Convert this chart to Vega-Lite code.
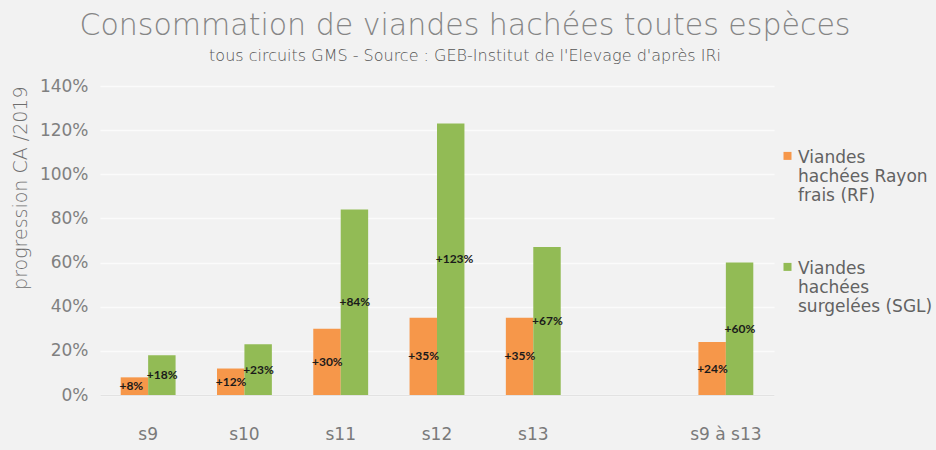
{
  "$schema": "https://vega.github.io/schema/vega-lite/v6.json",
  "autosize": "none",
  "width": 674,
  "height": 309,
  "padding": {"left": 100, "top": 86, "right": 162, "bottom": 55},
  "background": "#F2F2F2",
  "config": {
    "font": "DejaVu Sans",
    "view": {"stroke": null}
  },
  "title": {
    "text": "Consommation de viandes hachées toutes espèces",
    "subtitle": "tous circuits GMS -  Source :  GEB-Institut de l'Elevage d'après IRi",
    "anchor": "middle",
    "dx": 28,
    "fontSize": 30,
    "font": "DejaVu Sans",
    "fontWeight": 200,
    "color": "#858585",
    "subtitleFont": "DejaVu Sans",
    "subtitleFontSize": 16,
    "subtitleFontWeight": 200,
    "subtitleColor": "#555555",
    "subtitlePadding": 7,
    "offset": 13
  },
  "data": {
    "values": [
      {"semaine": "s9", "serie": "Viandes hachées Rayon frais (RF)", "v": 0.08},
      {"semaine": "s9", "serie": "Viandes hachées surgelées (SGL)", "v": 0.18},
      {"semaine": "s10", "serie": "Viandes hachées Rayon frais (RF)", "v": 0.12},
      {"semaine": "s10", "serie": "Viandes hachées surgelées (SGL)", "v": 0.23},
      {"semaine": "s11", "serie": "Viandes hachées Rayon frais (RF)", "v": 0.30},
      {"semaine": "s11", "serie": "Viandes hachées surgelées (SGL)", "v": 0.84},
      {"semaine": "s12", "serie": "Viandes hachées Rayon frais (RF)", "v": 0.35},
      {"semaine": "s12", "serie": "Viandes hachées surgelées (SGL)", "v": 1.23},
      {"semaine": "s13", "serie": "Viandes hachées Rayon frais (RF)", "v": 0.35},
      {"semaine": "s13", "serie": "Viandes hachées surgelées (SGL)", "v": 0.67},
      {"semaine": "s9 à s13", "serie": "Viandes hachées Rayon frais (RF)", "v": 0.24},
      {"semaine": "s9 à s13", "serie": "Viandes hachées surgelées (SGL)", "v": 0.60}
    ]
  },
  "encoding": {
    "x": {
      "field": "semaine",
      "type": "nominal",
      "sort": null,
      "scale": {"domain": ["s9", "s10", "s11", "s12", "s13", " ", "s9 à s13"], "paddingInner": 0.43, "paddingOuter": 0.215},
      "axis": {
        "title": null,
        "labelAngle": 0,
        "labelFontSize": 17,
        "labelFontWeight": "normal",
        "labelColor": "#7A7A7A",
        "labelPadding": 31,
        "ticks": false,
        "domain": true,
        "domainColor": "#E2E2E2",
        "domainWidth": 1
      }
    },
    "xOffset": {
      "field": "serie",
      "type": "nominal",
      "scale": {"paddingInner": 0, "paddingOuter": 0}
    }
  },
  "layer": [
    {
      "mark": {"type": "bar"},
      "encoding": {
        "y": {
          "field": "v",
          "type": "quantitative",
          "scale": {"domain": [0, 1.4], "nice": false},
          "axis": {
            "title": "progression CA /2019",
            "titleFontSize": 19,
            "titleFontWeight": 200,
            "titleColor": "#6E6E6E",
            "titleAnchor": "end",
            "titlePadding": 9,
            "format": ".0%",
            "values": [0, 0.2, 0.4, 0.6, 0.8, 1.0, 1.2, 1.4],
            "labelFontSize": 17,
            "labelFontWeight": "normal",
            "labelColor": "#808080",
            "labelPadding": 12,
            "ticks": false,
            "domain": false,
            "grid": true,
            "gridColor": "#FBFBFB",
            "gridWidth": 1.5
          }
        },
        "color": {
          "field": "serie",
          "type": "nominal",
          "scale": {"domain": ["Viandes hachées Rayon frais (RF)", "Viandes hachées surgelées (SGL)"], "range": ["#F6974A", "#92BB55"]},
          "legend": {
            "title": null,
            "orient": "none",
            "legendX": 679,
            "legendY": 55,
            "symbolType": "M-1,0.6H1V2.6H-1Z",
            "symbolSize": 64,
            "symbolStrokeWidth": 0,
            "labelFont": "DejaVu Sans",
            "labelFontSize": 17,
            "labelFontWeight": "normal",
            "labelColor": "#626262",
            "labelLineHeight": 23,
            "labelLimit": 200,
            "labelBaseline": "top",
            "labelOffset": 2,
            "rowPadding": 48,
            "labelExpr": "datum.label == 'Viandes hachées Rayon frais (RF)' ? ['Viandes', 'hachées Rayon', 'frais (RF)'] : ['Viandes', 'hachées', 'surgelées (SGL)']"
          }
        }
      }
    },
    {
      "mark": {"type": "text", "align": "left", "baseline": "middle", "dx": -15, "font": "Lato", "fontSize": 12, "fontWeight": "bold", "color": "#1A1A1A"},
      "encoding": {
        "y": {
          "field": "v",
          "type": "quantitative",
          "scale": {"domain": [0, 2.8], "nice": false},
          "axis": null
        },
        "text": {"field": "v", "type": "quantitative", "format": "+.0%"}
      }
    }
  ],
  "resolve": {"scale": {"y": "independent"}}
}
